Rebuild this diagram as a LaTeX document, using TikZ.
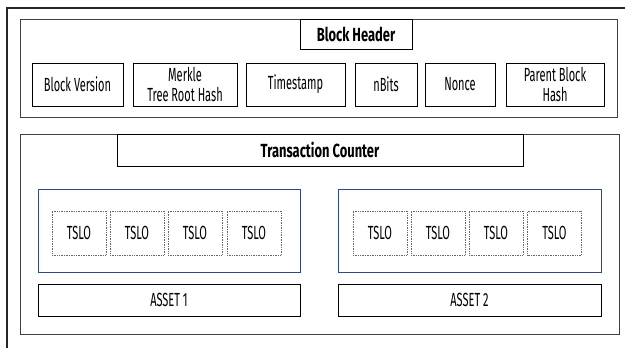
\documentclass[tikz,border=0pt]{standalone}
\usepackage{fontspec}
\setmainfont[FakeStretch=0.58]{Fira Sans}
\newfontfamily\titlefont[FakeStretch=0.68]{Fira Sans}
\definecolor{groupblue}{RGB}{47,72,140}
\begin{document}
\begin{tikzpicture}[x=1pt,y=-1pt,
  every node/.style={inner sep=0pt,outer sep=0pt,font=\fontsize{19}{19.5}\selectfont,align=center},
  frame/.style={draw=black!75,line width=0.9pt},
  tag/.style={draw=black,line width=0.9pt,fill=white,font=\titlefont\fontsize{19}{20}\selectfont\bfseries},
  field/.style={draw=black,line width=0.8pt},
  group/.style={draw=groupblue,line width=0.9pt},
  slot/.style={draw=black!60,line width=0.7pt,densely dotted},
]
\useasboundingbox (0,0) rectangle (625,348);
% outer page frame (open at right and bottom)
\coordinate (fb) at (7,348);
\coordinate (fc) at (7,8);
\coordinate (fr) at (625,8);
\draw[line width=1.6pt,black!85] (fb) -- (fc) -- (fr);

% block header section
\node[frame,minimum width=597,minimum height=98] (header) at (318.5,68) {};
\node[tag,minimum width=112,minimum height=30] (hlabel) at (356,34) {Block Header};
\node[field,minimum width=91,minimum height=43] (bv) at (77.5,84.5) {Block Version};
\node[field,minimum width=104,minimum height=43] (mk) at (185,84.5) {Merkle\\Tree Root Hash};
\node[field,minimum width=99,minimum height=43] (ts) at (295.5,84.5) {Timestamp};
\node[field,minimum width=62,minimum height=43] (nb) at (386,84.5) {nBits};
\node[field,minimum width=70,minimum height=43] (nc) at (460,84.5) {Nonce};
\node[field,minimum width=98,minimum height=43] (ph) at (555,84.5) {Parent Block\\Hash};

% transaction section
\node[frame,minimum width=599,minimum height=200] (tx) at (319.5,234) {};
\node[tag,minimum width=406,minimum height=32] (tclabel) at (320,150) {Transaction Counter};

% asset groups
\node[group,minimum width=262,minimum height=83] (g1) at (169,230.5) {};
\node[group,minimum width=263,minimum height=83] (g2) at (469.5,230.5) {};
\foreach \x [count=\i] in {79,137,195,254}
  \node[slot,minimum width=54,minimum height=44] (a\i) at (\x,233) {TSLO};
\foreach \x [count=\i] in {380,438,496,554.5}
  \node[slot,minimum width=54,minimum height=44] (b\i) at (\x,233) {TSLO};
\node[field,minimum width=262,minimum height=32] (as1) at (169,300) {ASSET 1};
\node[field,minimum width=263,minimum height=32] (as2) at (469.5,300) {ASSET 2};
\end{tikzpicture}
\end{document}
